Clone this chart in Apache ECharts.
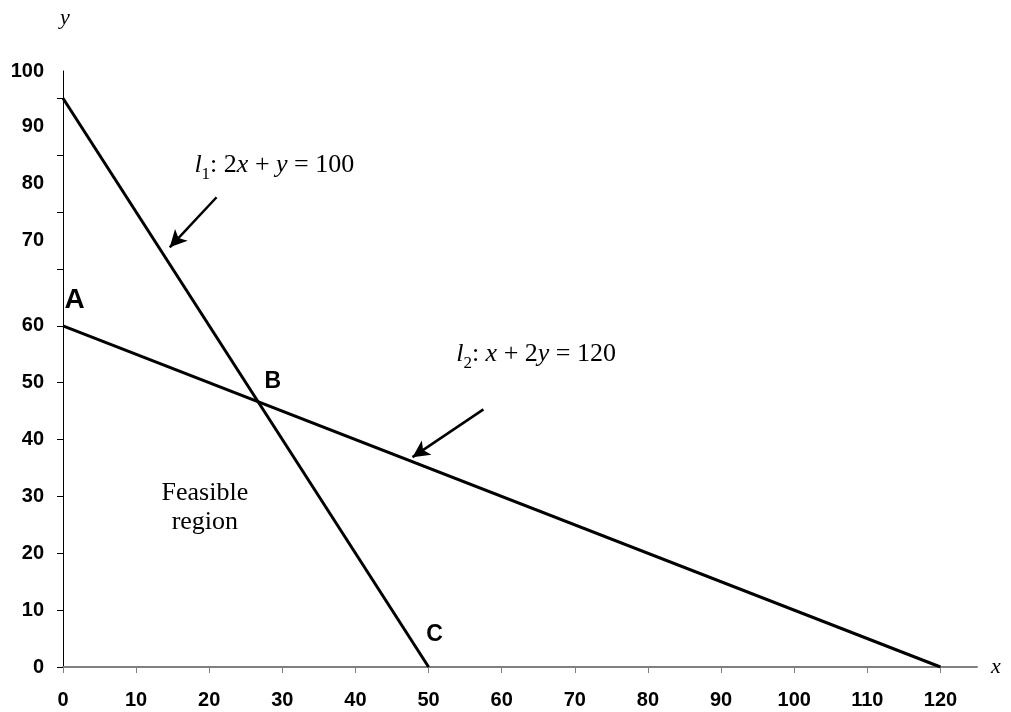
<!DOCTYPE html>
<html>
<head>
<meta charset="utf-8">
<script src="https://cdn.jsdelivr.net/npm/echarts@6.0.0/dist/echarts.min.js"></script>
<style>
html,body{margin:0;padding:0;background:#fff;}
#chart{width:1011px;height:712px;}
</style>
</head>
<body>
<div id="chart"></div>
<script>
// ---- data ----
const xTicks = [0, 10, 20, 30, 40, 50, 60, 70, 80, 90, 100, 110, 120];
const yTicks = [0, 10, 20, 30, 40, 50, 60, 70, 80, 90, 100];
const yLabelValues = [0, 10, 20, 30, 40, 50, 60, 75, 85, 95, 104.8];
const yLabelTexts = ['0', '10', '20', '30', '40', '50', '60', '70', '80', '90', '100'];
const line1 = [[0, 100], [50, 0]];   // l1: 2x + y = 100
const line2 = [[0, 60], [120, 0]];   // l2: x + 2y = 120
const pointNames = ['A', 'B', 'C'];
const pointPos = [[1.6, 64.5], [28.7, 50.1], [50.8, 5.75]];
const pointFontSizes = [28, 23, 23];
const noteNames = ['l1', 'l2', 'feasible'];
const notePos = [[28.9, 88.6], [64.7, 55.3], [19.4, 28.1]];
const arrow1 = [[21.0, 82.6], [14.6, 73.8]];
const arrow2 = [[57.5, 45.3], [47.8, 36.9]];

const chart = echarts.init(document.getElementById('chart'));
const serif = '"Liberation Serif", "Times New Roman", serif';
const sans = '"Liberation Sans", Arial, sans-serif';

const noteText = {
  l1: '{i|l}{s|1}{n|: 2}{i|x}{n| + }{i|y}{n| = 100}',
  l2: '{i|l}{s|2}{n|: }{i|x}{n| + 2}{i|y}{n| = 120}',
  feasible: '{f|Feasible}\n{f|region}'
};

const option = {
  animation: false,
  backgroundColor: '#fff',
  grid: { left: 63, right: 34, top: 71, bottom: 45, containLabel: false },
  xAxis: {
    type: 'value', min: 0, max: 125,
    name: 'x', nameLocation: 'end', nameGap: 14,
    nameTextStyle: { fontFamily: serif, fontStyle: 'italic', fontSize: 22, color: '#000', padding: [0, 0, 12, 0] },
    axisLine: { show: true, onZero: false, lineStyle: { color: '#808080', width: 2 } },
    axisTick: { show: true, length: 6, customValues: xTicks, lineStyle: { color: '#808080', width: 1 } },
    axisLabel: { customValues: xTicks, margin: 23, fontFamily: sans, fontWeight: 'bold', fontSize: 20, color: '#000' },
    splitLine: { show: false }
  },
  yAxis: {
    type: 'value', min: 0, max: 104.8,
    name: 'y', nameLocation: 'end', nameGap: 42,
    nameTextStyle: { fontFamily: serif, fontStyle: 'italic', fontSize: 22, color: '#000', padding: [0, 0, 0, 4] },
    axisLine: { show: true, onZero: false, lineStyle: { color: '#000', width: 1 } },
    axisTick: { show: true, length: 6, customValues: yTicks, lineStyle: { color: '#000', width: 1 } },
    axisLabel: {
      customValues: yLabelValues, margin: 19, fontFamily: sans, fontWeight: 'bold', fontSize: 20, color: '#000',
      formatter: function (v) {
        for (let i = 0; i < yLabelValues.length; i++) {
          if (Math.abs(v - yLabelValues[i]) < 1e-6) return yLabelTexts[i];
        }
        return '';
      }
    },
    splitLine: { show: false }
  },
  series: [
    {
      type: 'line', data: line1, symbol: 'none', silent: true,
      lineStyle: { color: '#000', width: 3 }
    },
    {
      type: 'line', data: line2, symbol: 'none', silent: true,
      lineStyle: { color: '#000', width: 3 }
    },
    {
      type: 'scatter', symbolSize: 0, silent: true,
      itemStyle: { opacity: 1, color: '#000' },
      data: pointNames.map((n, i) => ({
        name: n, value: pointPos[i],
        label: { fontSize: pointFontSizes[i] }
      })),
      label: {
        show: true, position: 'inside', formatter: '{b}',
        fontFamily: sans, fontWeight: 'bold', color: '#000', textBorderWidth: 0
      }
    },
    {
      type: 'scatter', symbolSize: 0, silent: true,
      itemStyle: { opacity: 1, color: '#000' },
      data: noteNames.map((n, i) => ({ name: n, value: notePos[i] })),
      label: {
        show: true, position: 'inside', color: '#000', textBorderWidth: 0,
        formatter: function (p) { return noteText[p.name]; },
        rich: {
          i: { fontFamily: serif, fontStyle: 'italic', fontSize: 26, color: '#000', verticalAlign: 'bottom', lineHeight: 30 },
          n: { fontFamily: serif, fontSize: 26, color: '#000', verticalAlign: 'bottom', lineHeight: 30 },
          s: { fontFamily: serif, fontSize: 17, color: '#000', verticalAlign: 'bottom', lineHeight: 30, padding: [0, 0, -5, 0] },
          f: { fontFamily: serif, fontSize: 26, color: '#000', lineHeight: 29, align: 'center' }
        }
      }
    },
    {
      type: 'line', data: [], silent: true,
      markLine: {
        silent: true, animation: false,
        symbol: ['none', 'arrow'], symbolSize: [13, 17],
        label: { show: false },
        lineStyle: { color: '#000', width: 2.5, type: 'solid' },
        data: [
          [{ coord: arrow1[0] }, { coord: arrow1[1] }],
          [{ coord: arrow2[0] }, { coord: arrow2[1] }]
        ]
      }
    }
  ]
};
chart.setOption(option);
</script>
</body>
</html>
